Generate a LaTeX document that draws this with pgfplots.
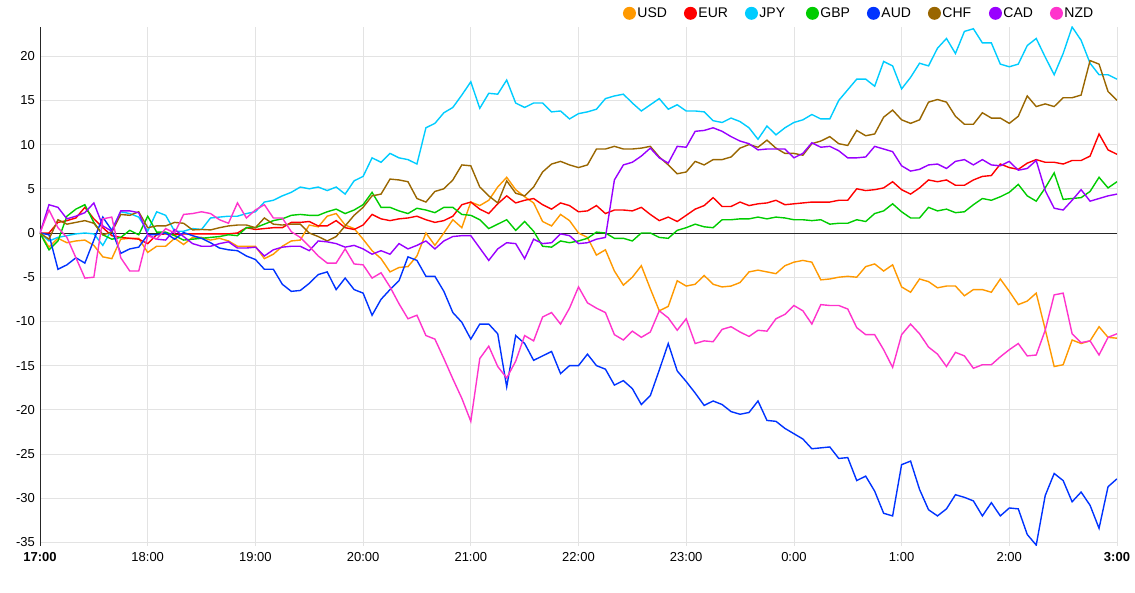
\documentclass[border=0pt]{standalone}
\usepackage{fontspec}
\setmainfont{Liberation Sans}
\usepackage{pgfplots}
\usepackage{pgfplotstable}
\pgfplotsset{compat=1.18}
\definecolor{cUSD}{HTML}{FF9900}
\definecolor{cEUR}{HTML}{FF0000}
\definecolor{cJPY}{HTML}{00CCFF}
\definecolor{cGBP}{HTML}{00CC00}
\definecolor{cAUD}{HTML}{0033FF}
\definecolor{cCHF}{HTML}{996600}
\definecolor{cCAD}{HTML}{9900FF}
\definecolor{cNZD}{HTML}{FF33CC}
\pgfplotstableread{
k usd eur jpy gbp aud chf cad nzd
0 0 0 0 0 0 0 0 0
1 -1.6 0 -0.9 -1.9 -0.2 -0.7 3.2 2.6
2 -0.6 1.2 -0.5 -0.9 -4.1 1.5 2.9 0.6
3 -1.1 1.4 -0.3 1.9 -3.6 1.0 1.6 -0.5
4 -0.9 1.7 -0.1 2.7 -2.8 1.2 1.9 -2.8
5 -0.8 2.9 0 3.2 -3.4 1.4 2.3 -5.1
6 -1.4 1.6 -0.1 1.2 -0.8 1.1 3.4 -5.0
7 -2.7 0.6 -1.4 -0.2 1.8 -0.2 0.8 1.6
8 -2.9 -0.3 0.4 -0.7 0.3 0.1 0.2 1.8
9 -0.7 -0.5 2.4 -0.5 -2.3 2.1 2.5 -2.8
10 -0.6 -0.6 2.2 0.3 -1.8 2.0 2.5 -4.3
11 -0.6 -0.7 1.8 -0.2 -1.6 2.4 2.3 -4.3
12 -2.2 -1.2 0.2 1.9 -0.2 0.6 -0.2 -0.3
13 -1.5 -0.2 2.4 0.1 -0.2 0.8 -0.7 -0.7
14 -1.5 -0.1 2.0 0.1 0 0.8 -0.8 0.5
15 -0.6 -0.2 0.2 -0.3 -0.7 1.2 0.4 0
16 -1.3 -0.1 0.2 -0.8 0.05 1.1 -0.4 2.1
17 -0.5 -0.1 0.5 -0.7 -0.3 0.35 -1.2 2.2
18 -0.5 -0.1 0.4 -0.6 -0.6 0.4 -1.5 2.4
19 -0.8 -0.1 1.7 -0.5 -1.1 0.35 -1.5 2.2
20 -0.6 -0.1 1.8 -0.4 -1.7 0.6 -1.2 1.5
21 -0.9 -0.1 1.9 -0.2 -1.9 0.8 -1.0 1.1
22 -1.5 0 1.9 -0.3 -2.0 0.9 -1.7 3.4
23 -1.5 0.6 2.2 0.6 -2.6 0.9 -1.7 1.7
24 -1.5 0.4 2.4 0.6 -3.0 0.6 -1.6 2.6
25 -2.9 0.5 3.5 1.0 -4.1 1.7 -2.6 3.2
26 -2.4 0.6 3.7 1.4 -4.1 1.0 -1.9 1.7
27 -1.5 0.6 4.2 1.6 -5.8 0.9 -1.6 1.7
28 -0.9 1.2 4.6 2.0 -6.6 1.0 -1.5 0.15
29 -0.8 1.2 5.2 2.1 -6.5 1.0 -1.5 -0.5
30 0.9 1.3 5.0 2.0 -5.7 0 -2.0 -1.5
31 0.7 0.8 5.2 2.0 -4.7 -0.4 -0.9 -2.6
32 1.9 0.8 4.8 2.4 -4.4 -0.9 -1.0 -3.4
33 2.2 1.4 5.2 2.7 -6.4 -0.4 -1.2 -3.4
34 0.9 0.6 4.4 2.2 -5.1 0.8 -1.6 -1.8
35 0.5 0.4 5.9 2.6 -6.4 2.0 -1.4 -3.5
36 -0.7 0.9 6.4 3.2 -6.8 2.9 -1.8 -3.6
37 -2.0 2.1 8.5 4.6 -9.3 4.2 -2.4 -5.1
38 -2.9 1.6 8.0 2.9 -7.5 4.4 -2.0 -4.5
39 -4.4 1.4 9.0 2.9 -6.4 6.1 -2.4 -6.1
40 -3.9 1.6 8.5 2.5 -5.4 6.0 -1.2 -8.0
41 -3.8 1.7 8.3 2.2 -2.7 5.8 -1.8 -9.7
42 -2.6 1.9 7.8 2.8 -3.1 3.9 -1.4 -9.3
43 0 1.5 11.9 2.6 -4.9 3.5 -0.9 -11.6
44 -1.4 1.2 12.4 2.3 -4.9 4.7 -1.8 -12.0
45 0 1.4 13.6 2.9 -6.6 5.0 -0.9 -14.2
46 1.5 1.9 14.2 2.9 -9.0 6.0 -0.4 -16.5
47 0.6 3.2 15.6 2.1 -10.1 7.7 -0.3 -18.7
48 3.5 3.5 17.1 2.0 -12.0 7.6 -0.3 -21.3
49 3.1 2.7 14.1 1.5 -10.3 5.2 -1.7 -14.2
50 3.7 2.2 15.8 0.5 -10.3 4.2 -3.1 -12.8
51 5.2 3.3 15.7 1.0 -11.4 3.4 -1.8 -15.1
52 6.3 4.2 17.3 1.5 -17.4 5.9 -1.1 -16.4
53 4.9 3.4 14.7 0.3 -11.6 4.5 -1.2 -14.5
54 4.1 3.7 14.2 1.3 -12.5 4.2 -2.9 -11.6
55 3.4 3.9 14.7 0.2 -14.4 5.2 -0.7 -12.2
56 1.3 3.2 14.7 -1.5 -13.9 6.9 -1.2 -9.5
57 0.8 2.7 13.7 -1.6 -13.4 7.8 -1.1 -9.0
58 2.1 3.4 13.8 -0.9 -15.9 8.1 -0.1 -10.3
59 1.4 3.1 12.9 -1.1 -15.0 7.7 -0.3 -8.5
60 0 2.4 13.5 -0.9 -15.0 7.4 -1.2 -6.1
61 -0.5 2.5 13.7 -0.6 -13.7 7.7 -1.1 -7.9
62 -2.5 3.1 14.0 0.1 -15.0 9.5 -0.7 -8.5
63 -1.9 2.2 15.2 0 -15.4 9.5 -0.5 -9.0
64 -4.3 2.6 15.5 -0.6 -17.2 9.8 6.0 -11.5
65 -5.9 2.6 15.7 -0.6 -16.7 9.5 7.7 -12.1
66 -5.0 2.5 14.7 -0.9 -17.6 9.5 8.0 -11.1
67 -3.7 2.9 13.8 0 -19.4 9.6 8.7 -11.8
68 -6.3 2.1 14.5 0 -18.4 9.8 9.6 -11.2
69 -8.8 1.4 15.2 -0.5 -15.5 8.6 8.5 -8.8
70 -8.3 1.8 14.0 -0.6 -12.5 7.7 7.9 -9.6
71 -5.4 1.3 14.5 0.3 -15.6 6.7 9.8 -11.0
72 -6.0 2.0 13.8 0.6 -16.8 6.9 9.7 -9.7
73 -5.8 2.7 13.8 1.0 -18.1 8.1 11.5 -12.5
74 -4.8 3.1 13.7 0.7 -19.5 7.7 11.6 -12.2
75 -5.8 4.0 12.7 0.6 -19.0 8.3 11.9 -12.3
76 -6.1 3.0 12.5 1.5 -19.4 8.3 11.5 -10.9
77 -6.0 3.0 13.0 1.5 -20.2 8.6 10.9 -10.6
78 -5.6 3.5 12.6 1.6 -20.5 9.6 10.4 -11.2
79 -4.4 3.1 11.9 1.6 -20.3 10.0 10.1 -11.7
80 -4.2 3.3 10.6 1.8 -19.0 9.7 9.4 -11.0
81 -4.4 3.4 12.1 1.6 -21.2 10.5 9.5 -11.1
82 -4.6 3.7 11.1 1.8 -21.3 9.6 9.5 -9.7
83 -3.7 3.2 11.9 1.7 -22.1 9.0 9.5 -9.2
84 -3.3 3.3 12.5 1.5 -22.7 9.0 8.5 -8.2
85 -3.1 3.4 12.8 1.5 -23.3 8.8 9.0 -8.8
86 -3.3 3.5 13.4 1.4 -24.4 10.1 10.2 -10.3
87 -5.3 3.5 12.9 1.5 -24.3 10.4 9.7 -8.1
88 -5.2 3.5 12.9 1.0 -24.2 10.9 9.8 -8.2
89 -5.0 3.7 15.0 1.1 -25.5 10.1 9.3 -8.2
90 -4.9 3.7 16.2 1.1 -25.4 9.9 8.5 -8.6
91 -5.0 5.0 17.4 1.5 -28.0 11.6 8.5 -10.7
92 -3.8 4.8 17.4 1.3 -27.5 11.0 8.6 -11.5
93 -3.5 4.9 16.6 2.2 -29.2 11.2 9.8 -11.5
94 -4.3 5.1 19.4 2.5 -31.7 13.1 9.5 -13.2
95 -3.6 5.8 18.9 3.3 -32.0 13.9 9.2 -15.2
96 -6.1 4.9 16.3 2.4 -26.2 12.8 7.6 -11.5
97 -6.7 4.4 17.6 1.7 -25.8 12.4 7.0 -10.3
98 -5.2 5.1 19.2 1.7 -29.0 12.8 7.2 -11.4
99 -5.5 6.0 18.9 2.9 -31.3 14.8 7.7 -12.9
100 -6.2 5.8 20.9 2.5 -32.0 15.1 7.8 -13.7
101 -6.0 6.0 22.0 2.7 -31.2 14.8 7.3 -15.1
102 -6.0 5.4 20.3 2.3 -29.6 13.2 8.1 -13.5
103 -7.1 5.4 22.8 2.4 -29.9 12.3 8.3 -13.9
104 -6.4 6.0 23.1 3.2 -30.3 12.3 7.7 -15.3
105 -6.4 6.4 21.5 3.9 -32.0 13.6 8.3 -14.9
106 -6.7 6.5 21.5 3.7 -30.5 13.0 7.7 -14.9
107 -5.2 7.8 19.1 4.1 -32.0 13.0 7.6 -14.0
108 -6.6 7.4 18.8 4.6 -31.1 12.4 8.1 -13.2
109 -8.1 7.2 19.1 5.5 -31.2 13.2 7.1 -12.5
110 -7.7 7.9 21.2 4.2 -34.1 15.5 7.3 -13.9
111 -6.8 8.3 22.0 3.6 -35.3 14.3 8.2 -13.8
112 -10.9 8.0 19.9 5.1 -29.7 14.6 4.8 -11.0
113 -15.1 8.0 17.9 6.8 -27.2 14.3 2.8 -7.0
114 -14.9 7.8 20.3 3.8 -28.0 15.3 2.6 -6.8
115 -12.1 8.2 23.3 3.9 -30.4 15.3 3.7 -11.4
116 -12.5 8.2 21.8 4.0 -29.3 15.6 4.9 -12.4
117 -12.2 8.7 19.2 4.7 -30.8 19.5 3.6 -12.2
118 -10.6 11.2 17.9 6.3 -33.4 19.1 3.9 -13.8
119 -11.8 9.4 17.9 5.1 -28.7 16.0 4.2 -11.8
120 -11.9 8.9 17.4 5.8 -27.8 15.0 4.4 -11.4
}\data
\begin{document}
\begin{tikzpicture}[x=1pt,y=1pt]
\useasboundingbox (0,0) rectangle (1135,593);
\begin{axis}[
  at={(40pt,47pt)}, anchor=south west, scale only axis,
  width=1077pt, height=519pt,
  xmin=0, xmax=120, ymin=-35.4, ymax=23.3,
  separate axis lines,
  axis x line*=bottom, axis y line*=left,
  x axis line style={draw=none,-},
  y axis line style={draw=black!85, line width=0.8pt,-},
  xtick={0,12,...,120},
  xticklabels={\textbf{17:00},18:00,19:00,20:00,21:00,22:00,23:00,0:00,1:00,2:00,\textbf{3:00}},
  ytick={-35,-30,...,20},
  yticklabels={-35,-30,-25,-20,-15,-10,-5,0,5,10,15,20},
  major tick length=0pt,
  tick style={draw=none},
  grid=major,
  grid style={draw=black!11, line width=0.8pt},
  tick label style={font=\fontsize{13}{15}\selectfont, text=black},
  xticklabel style={inner sep=0pt, yshift=-6pt},
  yticklabel style={inner sep=0pt, xshift=-5pt},
  every axis plot/.append style={line width=1.4pt, mark=none},
  legend columns=8,
  legend style={at={(0.5413,1.0389)}, anchor=north west, draw=none, fill=none,
    inner sep=0pt, outer sep=0pt, column sep=0pt,
    font=\fontsize{14}{16}\selectfont, nodes={inner sep=0pt}},
  legend image code/.code={\fill[#1,draw=none] (6.5pt,0pt) circle (6.5pt);},
]
\draw[black!85, line width=0.9pt] (axis cs:0,0) -- (axis cs:120,0);
\addplot[cUSD] table[x=k,y=usd]{\data};
\addlegendentry{\makebox[48pt][l]{\hspace{1.5pt}USD}}
\addplot[cEUR] table[x=k,y=eur]{\data};
\addlegendentry{\makebox[48pt][l]{\hspace{1.5pt}EUR}}
\addplot[cJPY] table[x=k,y=jpy]{\data};
\addlegendentry{\makebox[48pt][l]{\hspace{1.5pt}JPY}}
\addplot[cGBP] table[x=k,y=gbp]{\data};
\addlegendentry{\makebox[48pt][l]{\hspace{1.5pt}GBP}}
\addplot[cAUD] table[x=k,y=aud]{\data};
\addlegendentry{\makebox[48pt][l]{\hspace{1.5pt}AUD}}
\addplot[cCHF] table[x=k,y=chf]{\data};
\addlegendentry{\makebox[48pt][l]{\hspace{1.5pt}CHF}}
\addplot[cCAD] table[x=k,y=cad]{\data};
\addlegendentry{\makebox[48pt][l]{\hspace{1.5pt}CAD}}
\addplot[cNZD] table[x=k,y=nzd]{\data};
\addlegendentry{\makebox[48pt][l]{\hspace{1.5pt}NZD}}
\end{axis}
\end{tikzpicture}
\end{document}
